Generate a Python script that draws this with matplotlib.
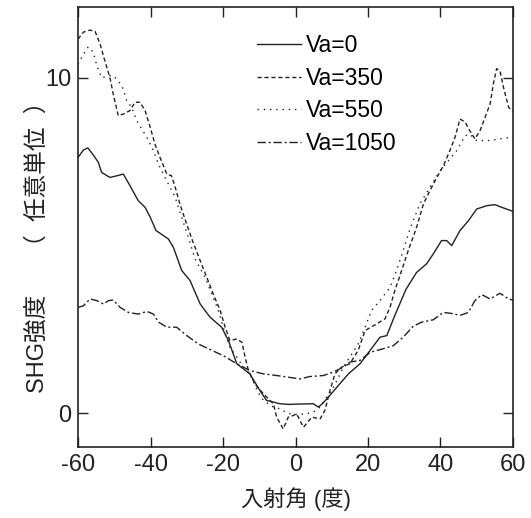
import matplotlib
matplotlib.use("Agg")
import matplotlib.pyplot as plt

plt.rcParams['font.family'] = ['Liberation Sans', 'Noto Sans CJK JP', 'DejaVu Sans']
plt.rcParams['axes.unicode_minus'] = False

# incidence angle (deg) and SHG intensity (arb. units) for each Va
x_va0 = [-60, -58.5, -57.3, -55.8, -54.4, -53.5, -51.2, -49.3, -47.5, -45.7, -43.4, -41.5,
         -40.1, -38.5, -35.1, -33.7, -31.4, -29.1, -26.3, -23.6, -20.4, -18.5, -16.2, -12.6,
         -9.8, -8, -4.3, -2, 1, 4.9, 6.3, 7.5, 9.1, 11.8, 14.6, 17.8, 20.6, 23.3, 25.2, 27.4,
         30.5, 33.4, 36.2, 38, 40.3, 41.7, 43.1, 45.4, 47.7, 50, 51.4, 52.8, 55, 56.9, 60]
y_va0 = [7.63, 7.85, 7.91, 7.7, 7.48, 7.18, 7.03, 7.08, 7.13, 6.79, 6.34, 6.14,
         5.85, 5.45, 5.2, 4.95, 4.26, 3.96, 3.26, 2.87, 2.57, 2.17, 1.48, 1.18,
         0.68, 0.39, 0.29, 0.27, 0.28, 0.29, 0.19, 0.3, 0.49, 0.83, 1.18, 1.48, 1.88, 2.27, 2.32, 2.92,
         3.7, 4.2, 4.46, 4.75, 5.15, 5.15, 5.0, 5.45, 5.74, 6.09, 6.14, 6.19, 6.22, 6.14, 6.02]

x_va350 = [-60, -58.5, -56.7, -55.3, -53.9, -52.6, -51.2, -50.3, -48.9, -47.5, -45.7, -44.3,
           -42.9, -41.5, -40.1, -38.8, -37.4, -35.5, -34.2, -33.2, -31.9, -30.5, -28.6, -26.3,
           -24.5, -22.7, -20.8, -19.4, -18.1, -16.2, -14.8, -13.9, -13, -11.2, -8.9, -6.1, -5.2,
           -3.4, -2, -0.6, 0.3, 2.2, 4.5, 6.8, 8.1, 9.5, 10.9, 12.7, 15, 17.3, 19.2, 22.4, 24.7,
           26.1, 27.4, 28.8, 31.1, 33.4, 35.3, 37.1, 38.5, 40.8, 42.6, 44, 45.4, 46.8, 48.1, 49.5,
           50.9, 52.3, 53.7, 54.6, 55.5, 56.4, 57.4, 58.8, 60]
y_va350 = [11.15, 11.36, 11.42, 11.38, 11.0, 10.5, 10.0, 9.52, 8.87, 8.92, 9.02, 9.27,
           9.27, 9.02, 8.53, 8.03, 7.63, 7.13, 7.08, 6.74, 6.24, 5.79, 5.2, 4.55,
           4.06, 3.56, 3.07, 2.57, 2.17, 2.22, 2.12, 1.68, 1.28, 0.88, 0.59, 0.29, -0.11,
           -0.46, -0.11, -0.06, -0.01, -0.41, -0.11, -0.16, 0.09, 0.68, 1.18, 1.38, 1.48, 1.88, 2.47, 2.67, 2.82,
           3.17, 3.66, 4.1, 4.85, 5.54, 6.24, 6.64, 6.93, 7.38, 7.83, 8.22, 8.77, 8.68, 8.42, 8.18,
           8.42, 8.82, 9.22, 9.82, 10.27, 10.21, 9.71, 9.12, 9.0]

x_va550 = [-60, -58.5, -57.2, -55.8, -54.8, -53.5, -51.6, -50.3, -48.9, -47.5, -46.6, -45.2,
           -43.8, -42.4, -41, -39.2, -37.8, -36.5, -35.1, -33.2, -31.4, -29.6, -27.7, -25,
           -23.1, -21.3, -19.4, -18.1, -16.2, -14.4, -12.6, -10.3, -8.9, -6.1, -4.3, -2, 0.5,
           3.1, 4.9, 6.8, 8.6, 10, 11.4, 13.2, 15, 17.3, 19.2, 21, 23.3, 26.1, 27.9, 29.7, 31.6,
           34.3, 37.1, 39.9, 42.2, 44.5, 46.8, 48.1, 50, 53.7, 56.4, 60]
y_va550 = [10.4, 10.7, 10.92, 10.76, 10.36, 10.0, 10.06, 10.06, 9.91, 9.66, 9.32, 9.12,
           8.72, 8.47, 8.22, 7.83, 7.43, 7.13, 6.84, 6.44, 5.84, 5.25, 4.6, 4.06,
           3.56, 3.07, 2.37, 1.97, 1.68, 1.38, 1.18, 0.63, 0.39, 0.19, 0.14, 0.0, -0.03,
           -0.01, 0.04, 0.19, 0.49, 0.68, 0.98, 1.38, 1.68, 2.07, 2.57, 3.07, 3.36, 3.76, 4.26, 4.85, 5.5,
           6.24, 6.74, 7.23, 7.53, 7.83, 8.27, 8.32, 8.13, 8.13, 8.18, 8.23]

x_va1050 = [-60, -58.5, -56.7, -54.8, -53, -51.6, -50.3, -48.4, -46.1, -43.4, -41, -39.2,
            -37.8, -35.5, -32.8, -30, -26.8, -23.1, -19.9, -16.2, -12.6, -8.9, -5.2, -2, 1.2,
            4, 7.7, 10.4, 13.2, 15, 17.8, 20.6, 23.3, 27, 29.7, 32.5, 34.8, 38, 40.8, 43.1, 45.4,
            47.7, 49.5, 51.4, 53.7, 56.4, 58.8, 60]
y_va1050 = [3.16, 3.21, 3.41, 3.36, 3.26, 3.36, 3.38, 3.16, 3.01, 2.96, 3.04, 2.96,
            2.72, 2.57, 2.57, 2.32, 2.07, 1.88, 1.72, 1.48, 1.28, 1.18, 1.13, 1.08, 1.03,
            1.1, 1.13, 1.23, 1.38, 1.53, 1.58, 1.82, 1.9, 2.02, 2.27, 2.6, 2.72, 2.79, 3.01, 2.98, 2.92,
            3.01, 3.36, 3.54, 3.41, 3.58, 3.41, 3.38]

labels = ['Va=0', 'Va=350', 'Va=550', 'Va=1050']

fig = plt.figure(figsize=(5.31, 5.18), dpi=100)
ax = fig.add_axes([0.147, 0.137, 0.819, 0.849])

col = '#222222'
ax.plot(x_va0, y_va0, color=col, lw=1.0, label=labels[0])
ax.plot(x_va350, y_va350, color=col, lw=1.0, dashes=(3, 2), label=labels[1])
ax.plot(x_va550, y_va550, color=col, lw=1.0, dashes=(1, 3.5), label=labels[2])
ax.plot(x_va1050, y_va1050, color=col, lw=1.0, dashes=(6, 2, 1.5, 2), label=labels[3])

ax.set_xlim(-60, 60)
ax.set_ylim(-1.0, 12.1)
ax.set_xticks([-60, -40, -20, 0, 20, 40, 60])
ax.set_yticks([0, 10])
ax.tick_params(direction='in', length=7.5, width=1.0, top=True, right=True,
               labelsize=17, pad=5, colors='#222222')
for s in ax.spines.values():
    s.set_linewidth(1.2)
    s.set_color('#222222')

ax.set_xlabel('入射角 (度)', fontsize=16, labelpad=8, color='#222222')
ax.set_ylabel('SHG強度　  （  任意単位  ）', fontsize=17, color='#222222')
ax.yaxis.set_label_coords(-0.068, 0.468)

ax.legend(loc='upper left', bbox_to_anchor=(0.39, 0.96), frameon=False, fontsize=16.5,
          handlelength=1.92, handletextpad=0.22, labelspacing=0.42, borderaxespad=0)

fig.savefig('out.png', dpi=100)
